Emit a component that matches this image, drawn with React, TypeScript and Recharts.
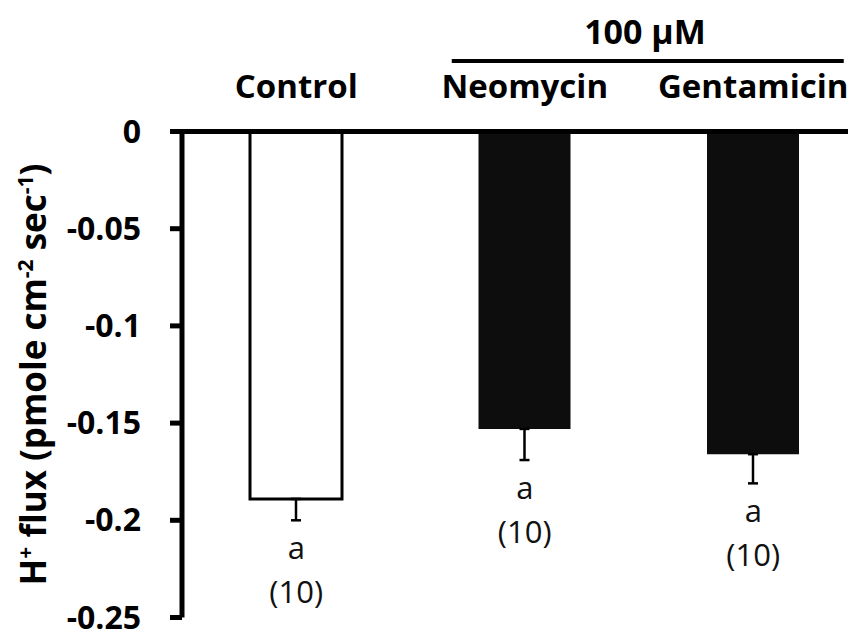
import React from 'react';
import { ComposedChart, Bar, Line, XAxis, YAxis, ErrorBar, LabelList, Cell } from 'recharts';

// H+ flux per treatment (pmole cm^-2 sec^-1), mean with SEM
const treatments = ['Control', 'Neomycin', 'Gentamicin'];
const meanFlux = [-0.189, -0.153, -0.166];
const semFlux = [0.011, 0.016, 0.015];
const letters = ['a', 'a', 'a'];
const sampleSizes = [10, 10, 10];
const barFills = ['#ffffff', '#0d0d0d', '#0d0d0d'];
const yTicks = [0, -0.05, -0.1, -0.15, -0.2, -0.25];
const groupLabel = '100 μM';

const FONT = "'Open Sans', 'Noto Sans', sans-serif";

const data = treatments.map((name, i) => ({
  name,
  flux: meanFlux[i],
  // downward-only whisker: [below, above]
  sem: [semFlux[i], 0],
}));

const CategoryTick = (props: any) => {
  const { x, y, payload, index } = props;
  const half = payload && typeof payload.offset === 'number' && payload.offset > 0 ? payload.offset : 114.25;
  return (
    <g>
      <text x={x} y={y} textAnchor="middle" fontFamily={FONT} fontWeight={700} fontSize={33} fill="#000">
        {payload.value}
      </text>
      {index === 1 && (
        <g>
          <line x1={x - 73} x2={x + 2 * half + 90.5} y1={y - 36.5} y2={y - 36.5} stroke="#000" strokeWidth={4} />
          <text x={x + half + 6} y={y - 54} textAnchor="middle" fontFamily={FONT} fontWeight={700} fontSize={34} fill="#000">
            {groupLabel}
          </text>
        </g>
      )}
    </g>
  );
};

const FluxTick = (props: any) => {
  const { x, y, payload } = props;
  return (
    <text x={x} y={y} dy={11} textAnchor="end" fontFamily={FONT} fontWeight={700} fontSize={32} fill="#000">
      {String(payload.value)}
    </text>
  );
};

const AxisTitle = (props: any) => {
  const vb = props.viewBox || {};
  const cx = 38;
  const cy = (vb.y ?? 123.5) + (vb.height ?? 486) / 2;
  const sup = 21;
  return (
    <text
      x={cx}
      y={cy}
      transform={`rotate(-90, ${cx}, ${cy})`}
      textAnchor="middle"
      fontFamily={FONT}
      fontWeight={700}
      fontSize={35}
      fill="#000"
    >
      <tspan>H</tspan>
      <tspan dy={-13} fontSize={sup}>+</tspan>
      <tspan dy={13}> flux (pmole cm</tspan>
      <tspan dy={-13} fontSize={sup}>-2</tspan>
      <tspan dy={13}> sec</tspan>
      <tspan dy={-13} fontSize={sup}>-1</tspan>
      <tspan dy={13}>)</tspan>
    </text>
  );
};

const Significance = (props: any) => {
  const { x, y, index } = props;
  return (
    <g>
      <text x={x} y={y + 39} textAnchor="middle" fontFamily={FONT} fontSize={31} fill="#111">
        {letters[index]}
      </text>
      <text x={x} y={y + 83} textAnchor="middle" fontFamily={FONT} fontSize={31} fill="#111">
        ({sampleSizes[index]})
      </text>
    </g>
  );
};

export default function App() {
  return (
    <div style={{ width: 848, height: 624, overflow: 'hidden', background: '#fff' }}>
      <ComposedChart
        width={870}
        height={624}
        data={data}
        margin={{ top: 0, right: 10.5, bottom: 14.5, left: 0 }}
        barCategoryGap={0}
      >
        <XAxis
          dataKey="name"
          orientation="top"
          height={123.5}
          interval={0}
          tickLine={false}
          tickSize={0}
          tickMargin={34}
          axisLine={{ stroke: '#000', strokeWidth: 5 }}
          tick={<CategoryTick />}
        />
        <YAxis
          type="number"
          domain={[-0.25, 0]}
          ticks={yTicks}
          width={174}
          tickSize={12}
          tickMargin={29}
          axisLine={{ stroke: '#000', strokeWidth: 5 }}
          tickLine={{ stroke: '#000', strokeWidth: 5 }}
          tick={<FluxTick />}
          label={{ content: <AxisTitle /> }}
        />
        <Bar dataKey="flux" barSize={92} isAnimationActive={false}>
          {data.map((d, i) => (
            <Cell
              key={d.name}
              fill={barFills[i]}
              stroke={i === 0 ? '#000' : 'none'}
              strokeWidth={i === 0 ? 3 : 0}
            />
          ))}
          <ErrorBar dataKey="sem" direction="y" width={5} stroke="#000" strokeWidth={2.5} />
        </Bar>
        <Line
          dataKey={(d: any) => d.flux - d.sem[0]}
          stroke="none"
          dot={false}
          activeDot={false}
          legendType="none"
          isAnimationActive={false}
        >
          <LabelList content={<Significance />} />
        </Line>
      </ComposedChart>
    </div>
  );
}
